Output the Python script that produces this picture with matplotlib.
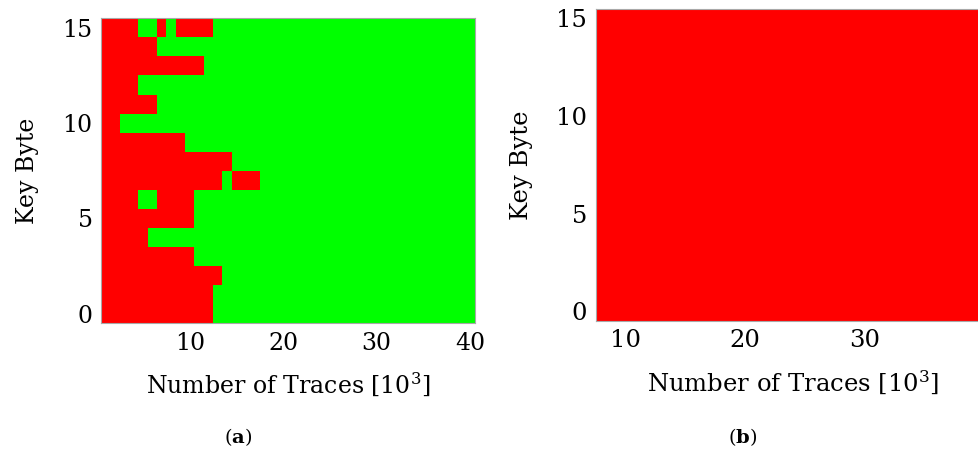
import matplotlib
matplotlib.use("Agg")
import matplotlib.pyplot as plt
from matplotlib.colors import ListedColormap
import numpy as np

plt.rcParams["font.family"] = ["DejaVu Serif"]
plt.rcParams["mathtext.fontset"] = "dejavuserif"

# (a) key byte recovered (1) or not (0), for 1..40 thousand traces
traces_a = list(range(1, 41))
recovered_a = [
    "00000000000011111111" "11111111111111111111",  # byte 0
    "00000000000011111111" "11111111111111111111",  # byte 1
    "00000000000001111111" "11111111111111111111",  # byte 2
    "00000000001111111111" "11111111111111111111",  # byte 3
    "00000111111111111111" "11111111111111111111",  # byte 4
    "00000000001111111111" "11111111111111111111",  # byte 5
    "00001100001111111111" "11111111111111111111",  # byte 6
    "00000000000001000111" "11111111111111111111",  # byte 7
    "00000000000000111111" "11111111111111111111",  # byte 8
    "00000000011111111111" "11111111111111111111",  # byte 9
    "00111111111111111111" "11111111111111111111",  # byte 10
    "00000011111111111111" "11111111111111111111",  # byte 11
    "00001111111111111111" "11111111111111111111",  # byte 12
    "00000000000111111111" "11111111111111111111",  # byte 13
    "00000011111111111111" "11111111111111111111",  # byte 14
    "00001101000011111111" "11111111111111111111",  # byte 15
]

# (b) no key byte is recovered, 8..40 thousand traces
traces_b = list(range(8, 41))
recovered_b = ["0" * len(traces_b)] * 16

key_bytes = list(range(16))
cmap = ListedColormap(["#ff0000", "#00ff00"])


def to_grid(rows):
    return np.array([[int(c) for c in r] for r in rows])


def edges(centers):
    c = np.asarray(centers, dtype=float)
    return np.concatenate([c - 0.5, [c[-1] + 0.5]])


fig = plt.figure(figsize=(9.79, 4.51), dpi=100)

ax_a = fig.add_axes([101 / 979, 1 - 323.3 / 451, 373.7 / 979, 305 / 451])
ax_b = fig.add_axes([595.7 / 979, 1 - 321 / 451, 394.4 / 979, 312.5 / 451])

panels = [
    (ax_a, traces_a, recovered_a, [10, 20, 30, 40], 17, 238),
    (ax_b, traces_b, recovered_b, [10, 20, 30], 17.5, 743),
]

for ax, traces, rows, xt, fs, cap_x in panels:
    ax.pcolormesh(edges(traces), edges(key_bytes), to_grid(rows),
                  cmap=cmap, vmin=0, vmax=1)
    ax.set_xlim(traces[0] - 0.5, traces[-1] + 0.5)
    ax.set_ylim(-0.5, 15.5)
    ax.set_xticks(xt)
    ax.set_yticks([0, 5, 10, 15])
    ax.tick_params(length=0, labelsize=fs, pad=6)
    for s in ax.spines.values():
        s.set_color("#a8a8a8")
        s.set_linewidth(0.8)
    ax.set_xlabel(r"Number of Traces [10$^3$]", fontsize=fs, labelpad=12)
    ax.set_ylabel("Key Byte", fontsize=fs, labelpad=17)
    fig.text(cap_x / 979, 1 - 437 / 451, r"($\mathbf{" + "ab"[ax is ax_b] + "}$)",
             ha="center", va="center", fontsize=14)

fig.savefig("out.png", dpi=100)
